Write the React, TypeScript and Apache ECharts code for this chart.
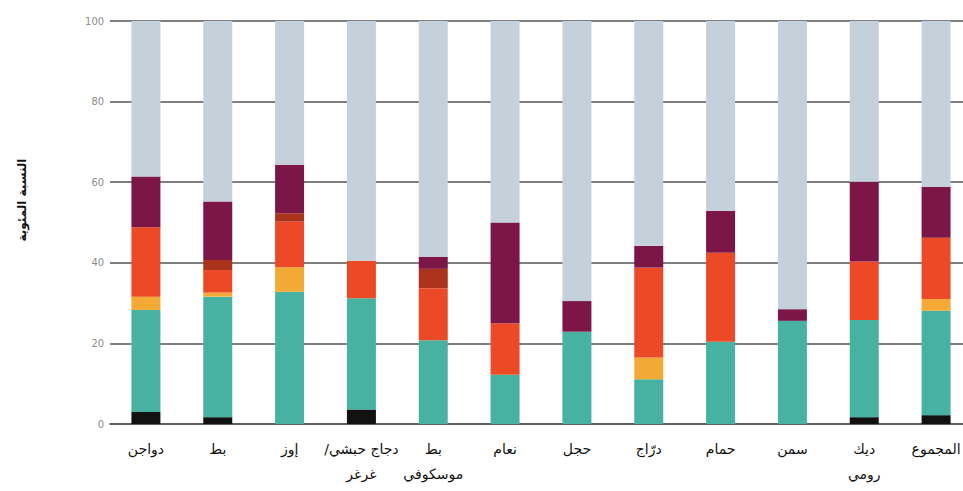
import React, { useEffect, useRef } from "react";
import * as echarts from "echarts";

const categories = [
  "دواجن",
  "بط",
  "إوز",
  "دجاج حبشي/\u200F\nغرغر",
  "بط\nموسكوفي",
  "نعام",
  "حجل",
  "درّاج",
  "حمام",
  "سمن",
  "ديك\nرومي",
  "المجموع",
];

const yTicks = [0, 20, 40, 60, 80, 100];

const blackVals = [3, 1.7, 0, 3.6, 0, 0, 0, 0, 0, 0, 1.7, 2.2];
const tealVals = [25.3, 29.9, 32.8, 27.6, 20.8, 12.2, 22.9, 11.1, 20.4, 25.6, 24.1, 25.9];
const yellowVals = [3.3, 1.0, 6.1, 0, 0, 0, 0, 5.4, 0, 0, 0, 2.9];
const orangeVals = [17.2, 5.6, 11.3, 9.3, 12.9, 12.8, 0, 22.3, 22.1, 0, 14.5, 15.2];
const brownVals = [0, 2.5, 2.1, 0, 4.8, 0, 0, 0, 0, 0, 0, 0];
const purpleVals = [12.6, 14.5, 12.0, 0, 3.0, 25, 7.6, 5.4, 10.4, 2.9, 19.8, 12.7];
const grayVals = [38.6, 44.8, 35.7, 59.5, 58.5, 50, 69.5, 55.8, 47.1, 71.5, 39.9, 41.1];

const seriesDefs = [
  { name: "black", data: blackVals, color: "#121212" },
  { name: "teal", data: tealVals, color: "#47b2a2" },
  { name: "yellow", data: yellowVals, color: "#f3a935" },
  { name: "orange", data: orangeVals, color: "#ec4a27" },
  { name: "brown", data: brownVals, color: "#ab331c" },
  { name: "purple", data: purpleVals, color: "#7b1647" },
  { name: "gray", data: grayVals, color: "#c4d1db" },
];

export default function App() {
  const ref = useRef<HTMLDivElement>(null);
  useEffect(() => {
    if (!ref.current) return;
    const chart = echarts.init(ref.current, null, { renderer: "svg" });
    chart.setOption({
      animation: false,
      backgroundColor: "#ffffff",
      grid: { left: 110, right: 8, top: 21, bottom: 67, containLabel: false },
      xAxis: {
        type: "category",
        data: categories,
        axisLine: { show: true, lineStyle: { color: "#555", width: 1.5 } },
        axisTick: { show: false },
        axisLabel: {
          color: "#111",
          fontSize: 14,
          fontFamily: "DejaVu Sans",
          margin: 12,
          lineHeight: 25,
          interval: 0,
        },
      },
      yAxis: {
        type: "value",
        min: 0,
        max: 100,
        interval: 20,
        axisLine: { show: false },
        axisTick: { show: false },
        axisLabel: {
          color: "#8a8a8a",
          fontSize: 11,
          fontFamily: "DejaVu Sans Condensed, DejaVu Sans",
          margin: 6,
          formatter: (v: number) => (yTicks.includes(v) ? String(v) : ""),
        },
        splitLine: { show: true, lineStyle: { color: "#555", width: 1.5 } },
      },
      graphic: [
        {
          type: "text",
          x: 22,
          y: 200,
          rotation: Math.PI / 2,
          style: {
            text: "النسبة المئوية",
            fontSize: 12,
            fontWeight: "bold",
            fontFamily: "DejaVu Sans",
            fill: "#111",
            textAlign: "center",
            textVerticalAlign: "middle",
          },
        },
      ],
      series: seriesDefs.map((s) => ({
        name: s.name,
        type: "bar",
        stack: "total",
        barWidth: 29,
        data: s.data,
        itemStyle: { color: s.color },
        emphasis: { disabled: true },
      })),
    });
    return () => chart.dispose();
  }, []);
  return (
    <div
      style={{
        position: "absolute",
        left: 0,
        top: 0,
        width: 963,
        height: 491,
        overflow: "hidden",
        background: "#fff",
      }}
    >
      <div ref={ref} style={{ width: 980, height: 491 }} />
    </div>
  );
}
